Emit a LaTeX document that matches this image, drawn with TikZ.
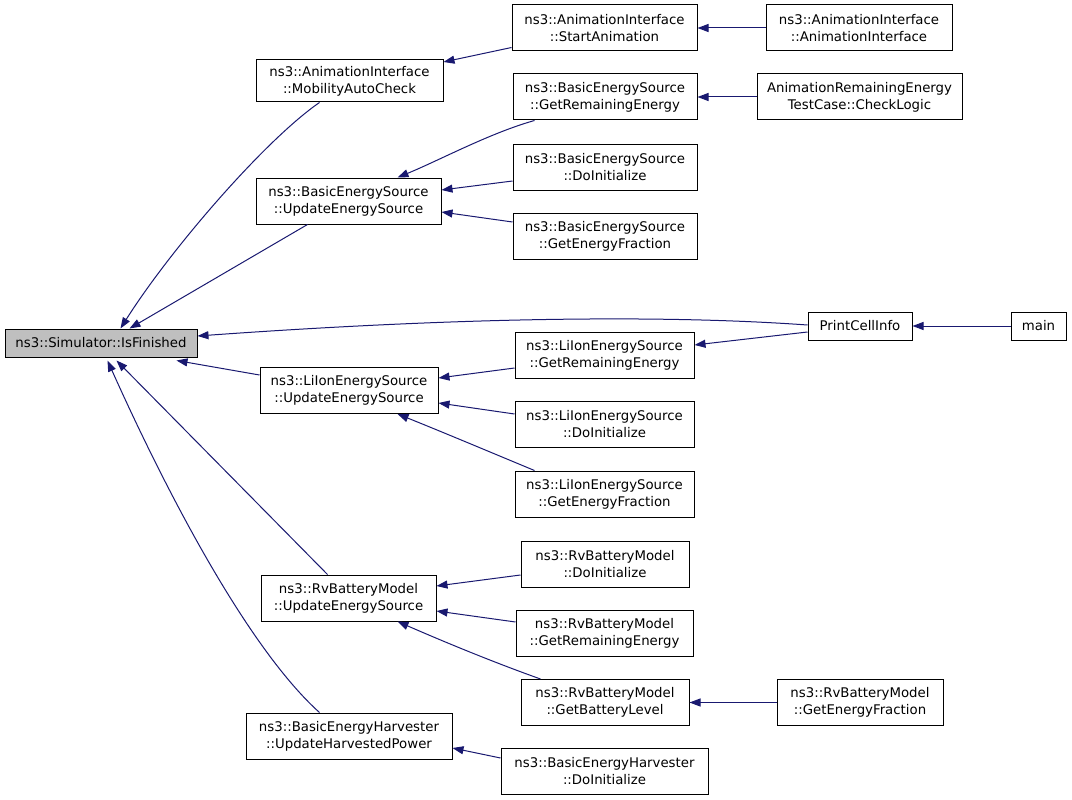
\documentclass[tikz,border=0pt]{standalone}
\usepackage{fontspec}
\setmainfont{DejaVu Sans}
\usetikzlibrary{arrows.meta,calc}
\definecolor{edgec}{HTML}{191970}
\definecolor{hl}{HTML}{BFBFBF}
\tikzset{
  fn/.style={draw=black, line width=1pt, fill=white, inner sep=0pt, align=center,
    font=\fontsize{13.3}{17}\selectfont, minimum height=46pt},
  fn1/.style={fn, minimum height=28pt},
  arr/.style={draw=edgec, line width=1pt, {Triangle[length=11pt,width=8pt]}-},
}
\begin{document}
\begin{tikzpicture}[x=1pt,y=-1pt]
\useasboundingbox (0,0) rectangle (1072,800);
% nodes
\node[fn1, fill=hl, minimum width=192pt] (isf) at (101,343) {ns3::Simulator::IsFinished};
\node[fn, minimum width=187pt, minimum height=42pt] (mac) at (349.5,81) {ns3::AnimationInterface\\::MobilityAutoCheck};
\node[fn, minimum width=185pt] (sa) at (604.5,28) {ns3::AnimationInterface\\::StartAnimation};
\node[fn, minimum width=186pt] (aic) at (859,28) {ns3::AnimationInterface\\::AnimationInterface};
\node[fn, minimum width=184pt] (bgre) at (605,97) {ns3::BasicEnergySource\\::GetRemainingEnergy};
\node[fn, minimum width=205pt] (cl) at (859.5,97) {AnimationRemainingEnergy\\TestCase::CheckLogic};
\node[fn, minimum width=184pt] (bdi) at (605,167) {ns3::BasicEnergySource\\::DoInitialize};
\node[fn, minimum width=185pt] (bues) at (348.5,201) {ns3::BasicEnergySource\\::UpdateEnergySource};
\node[fn, minimum width=184pt] (bgef) at (605,236) {ns3::BasicEnergySource\\::GetEnergyFraction};
\node[fn1, minimum width=104pt] (pci) at (860,326) {PrintCellInfo};
\node[fn1, minimum width=55pt] (main) at (1038.5,326) {main};
\node[fn, minimum width=179pt] (lgre) at (604.5,355.5) {ns3::LiIonEnergySource\\::GetRemainingEnergy};
\node[fn, minimum width=178pt] (lues) at (349,390.5) {ns3::LiIonEnergySource\\::UpdateEnergySource};
\node[fn, minimum width=179pt] (ldi) at (604.5,424.5) {ns3::LiIonEnergySource\\::DoInitialize};
\node[fn, minimum width=179pt] (lgef) at (604.5,494) {ns3::LiIonEnergySource\\::GetEnergyFraction};
\node[fn, minimum width=168pt] (rdi) at (605,564) {ns3::RvBatteryModel\\::DoInitialize};
\node[fn, minimum width=175pt] (rues) at (348.5,598) {ns3::RvBatteryModel\\::UpdateEnergySource};
\node[fn, minimum width=177pt] (rgre) at (604.5,633) {ns3::RvBatteryModel\\::GetRemainingEnergy};
\node[fn, minimum width=168pt] (rgbl) at (605,702.5) {ns3::RvBatteryModel\\::GetBatteryLevel};
\node[fn, minimum width=166pt] (rgef) at (860,702.5) {ns3::RvBatteryModel\\::GetEnergyFraction};
\node[fn, minimum width=206pt] (hup) at (349,736) {ns3::BasicEnergyHarvester\\::UpdateHarvestedPower};
\node[fn, minimum width=207pt] (hdi) at (604.5,771) {ns3::BasicEnergyHarvester\\::DoInitialize};
% edges to IsFinished
\draw[arr] ($(isf.north west)+(116,0)$) .. controls (170,250) and (265,140) .. ($(mac.south west)+(64,0)$);
\draw[arr] ($(isf.north west)+(125,0)$) -- ($(bues.south west)+(52,0)$);
\draw[arr] ($(isf.east)+(0,-7)$) .. controls (420,320) and (640,313) .. ($(pci.west)+(0,-1)$);
\draw[arr] ($(isf.south west)+(172,3)$) -- ($(lues.west)+(0,-15.5)$);
\draw[arr] ($(isf.south west)+(112,3)$) -- ($(rues.north west)+(67,0)$);
\draw[arr] ($(isf.south west)+(103,3)$) .. controls (170,500) and (250,650) .. ($(hup.north west)+(74,0)$);
% other edges
\draw[arr] ($(mac.east)+(0,-19)$) -- ($(sa.south west)+(0,-4)$);
\draw[arr] (sa.east) -- (aic.west);
\draw[arr] ($(bues.north west)+(142,0)$) .. controls (440,160) and (490,133) .. ($(bgre.south west)+(22,0)$);
\draw[arr] (bgre.east) -- (cl.west);
\draw[arr] ($(bues.east)+(0,-11)$) -- ($(bdi.west)+(0,14)$);
\draw[arr] ($(bues.east)+(0,11)$) -- ($(bgef.west)+(0,-14)$);
\draw[arr] (pci.east) -- (main.west);
\draw[arr] ($(lgre.east)+(0,-10.5)$) -- ($(pci.west)+(0,6)$);
\draw[arr] ($(lues.east)+(0,-12.5)$) -- ($(lgre.west)+(0,12.5)$);
\draw[arr] ($(lues.east)+(0,12.5)$) -- ($(ldi.west)+(0,-10.5)$);
\draw[arr] ($(lues.south west)+(138,0)$) .. controls (440,431) and (490,452) .. ($(lgef.north west)+(20,0)$);
\draw[arr] ($(rues.east)+(0,-12)$) -- ($(rdi.west)+(0,11)$);
\draw[arr] ($(rues.east)+(0,13)$) -- ($(rgre.west)+(0,-11)$);
\draw[arr] ($(rues.south west)+(137,0)$) .. controls (440,640) and (490,661) .. ($(rgbl.north west)+(20,0)$);
\draw[arr] (rgbl.east) -- (rgef.west);
\draw[arr] ($(hup.east)+(0,12)$) -- ($(hdi.west)+(0,-13)$);
\end{tikzpicture}
\end{document}
